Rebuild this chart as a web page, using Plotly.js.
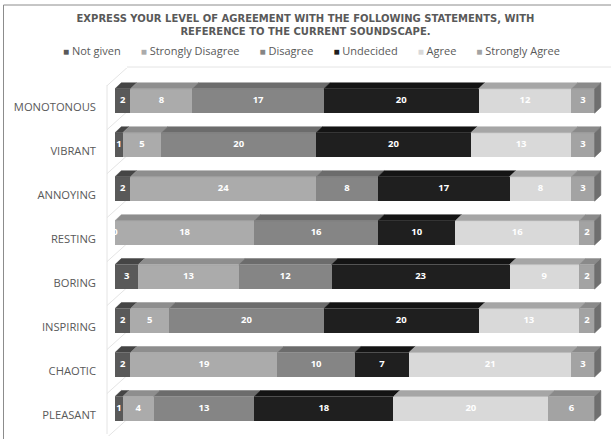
<!DOCTYPE html>
<html>
<head>
<meta charset="utf-8">
<script src="https://cdn.plot.ly/plotly-3.0.1.min.js"></script>
<style>html,body{margin:0;padding:0;background:#fff;}#chart{width:611px;height:439px;}</style>
</head>
<body>
<div id="chart"></div>
<script>
const categories = ['MONOTONOUS','VIBRANT','ANNOYING','RESTING','BORING','INSPIRING','CHAOTIC','PLEASANT'];
const seriesNames = ['Not given','Strongly Disagree','Disagree','Undecided','Agree','Strongly Agree'];
const notGiven          = [2, 1, 2, 0, 3, 2, 2, 1];
const stronglyDisagree  = [8, 5, 24, 18, 13, 5, 19, 4];
const disagree          = [17, 20, 8, 16, 12, 20, 10, 13];
const undecided         = [20, 20, 17, 10, 23, 20, 7, 18];
const agree             = [12, 13, 8, 16, 9, 13, 21, 20];
const stronglyAgree     = [3, 3, 3, 2, 2, 2, 3, 6];

const seriesValues = [notGiven, stronglyDisagree, disagree, undecided, agree, stronglyAgree];
const frontColors = ['#595959', '#ababab', '#858585', '#1f1f1f', '#d9d9d9', '#a3a3a3'];
const topColors   = ['#454545', '#8e8e8e', '#6c6c6c', '#141414', '#a6a6a6', '#8a8a8a'];
const sideColor   = '#6f6f6f';

const idx = categories.map((_, i) => i);
const barW = 0.557;
const dx = 0.81;   // depth in x units
const dy = 0.136;  // depth in y units

const traces = [];
const cum = categories.map(() => 0);
const starts = [];
seriesValues.forEach((vals, s) => {
  starts.push(cum.slice());
  traces.push({
    type: 'bar', orientation: 'h', name: seriesNames[s],
    x: vals, y: idx, width: barW,
    marker: {color: frontColors[s], line: {width: 0}},
    showlegend: false, hoverinfo: 'skip'
  });
  vals.forEach((v, i) => { cum[i] += v; });
});

// top faces
seriesValues.forEach((vals, s) => {
  const px = [], py = [];
  vals.forEach((v, i) => {
    if (v <= 0) return;
    const x0 = starts[s][i], x1 = x0 + v;
    const yT = i - barW / 2;
    px.push(x0, x0 + dx, x1 + dx, x1, x0, null);
    py.push(yT, yT - dy, yT - dy, yT, yT, null);
  });
  traces.push({
    type: 'scatter', mode: 'lines', x: px, y: py, fill: 'toself',
    fillcolor: topColors[s], line: {color: topColors[s], width: 0.5},
    showlegend: false, hoverinfo: 'skip'
  });
});

// right side faces
{
  const px = [], py = [];
  cum.forEach((tot, i) => {
    const yT = i - barW / 2, yB = i + barW / 2;
    px.push(tot, tot + dx, tot + dx, tot, tot, null);
    py.push(yT, yT - dy, yB - dy, yB, yT, null);
  });
  traces.push({
    type: 'scatter', mode: 'lines', x: px, y: py, fill: 'toself',
    fillcolor: sideColor, line: {color: sideColor, width: 0.5},
    showlegend: false, hoverinfo: 'skip'
  });
}

// value labels
seriesValues.forEach((vals, s) => {
  traces.push({
    type: 'scatter', mode: 'text',
    x: vals.map((v, i) => starts[s][i] + v / 2), y: idx,
    text: vals.map(String),
    textfont: {family: 'Open Sans', size: 9.5, color: '#ffffff', weight: 'bold'},
    textposition: 'middle center', cliponaxis: true,
    showlegend: false, hoverinfo: 'skip'
  });
});

const plotTop = 68, plotBot = 436, plotL = 115, plotR = 607;
const pxPerY = (plotBot - plotTop) / 8.37;
const py2paper = p => (plotBot - p) / (plotBot - plotTop);
const px2paper = p => (p - plotL) / (plotR - plotL);
const gridCol = '#e4e4e4';

// legend drawn as one line of coloured squares and names
const NB = '\u00A0';
const legendText = seriesNames.map((n, s) =>
  '<span style="color:' + frontColors[s] + ';font-size:10px">\u25A0</span>' + NB + n
).join(NB.repeat(7));

const shapes = [
  {type: 'line', xref: 'paper', yref: 'paper', x0: px2paper(3.5), x1: px2paper(3.5), y0: py2paper(5), y1: py2paper(445), line: {color: '#8c8c8c', width: 1}},
  {type: 'line', xref: 'paper', yref: 'paper', x0: px2paper(3.5), x1: px2paper(620), y0: py2paper(5), y1: py2paper(5), line: {color: '#8c8c8c', width: 1}},
  {type: 'line', xref: 'paper', yref: 'paper', x0: px2paper(107), x1: px2paper(107), y0: py2paper(85), y1: py2paper(434), line: {color: gridCol, width: 1}, layer: 'below'},
  {type: 'line', xref: 'paper', yref: 'paper', x0: px2paper(127), x1: px2paper(611), y0: py2paper(67), y1: py2paper(67), line: {color: gridCol, width: 1}, layer: 'below'}
];
// 3D floor diagonals at each category boundary
for (let i = 0; i <= categories.length; i++) {
  const yLow = i - barW / 2 - 3 / pxPerY;
  shapes.push({
    type: 'line', xref: 'paper', yref: 'y',
    x0: px2paper(107), x1: px2paper(127),
    y0: yLow, y1: yLow - 18 / pxPerY,
    line: {color: gridCol, width: 1}, layer: 'below'
  });
}

const layout = {
  width: 611, height: 439,
  margin: {l: 115, r: 4, t: 68, b: 3},
  paper_bgcolor: '#ffffff', plot_bgcolor: 'rgba(0,0,0,0)',
  showlegend: false,
  title: {
    text: '<b>EXPRESS YOUR LEVEL OF AGREEMENT WITH THE FOLLOWING STATEMENTS, WITH<br>REFERENCE TO THE CURRENT SOUNDSCAPE.</b>',
    font: {family: 'DejaVu Sans', size: 10, color: '#595959'},
    x: 0.5, xref: 'container', xanchor: 'center',
    y: 0.951, yref: 'container', yanchor: 'top'
  },
  annotations: [{
    text: legendText, showarrow: false,
    xref: 'paper', yref: 'paper', x: px2paper(311), y: py2paper(50.5),
    xanchor: 'center', yanchor: 'middle',
    font: {family: 'Open Sans', size: 11, color: '#595959'}
  }],
  xaxis: {
    range: [0, 63.6], showgrid: false, zeroline: false, showticklabels: false,
    showline: false, fixedrange: true
  },
  yaxis: {
    range: [7.62, -0.75], showgrid: false, zeroline: false, showline: false,
    tickmode: 'array', tickvals: idx.map(i => i + 0.14), ticktext: categories,
    tickfont: {family: 'Open Sans', size: 11.2, color: '#595959'},
    ticks: '', ticklabelstandoff: 18, fixedrange: true
  },
  barmode: 'stack', bargap: 0,
  shapes: shapes
};

Plotly.newPlot('chart', traces, layout, {displayModeBar: false, staticPlot: true});
</script>
</body>
</html>
